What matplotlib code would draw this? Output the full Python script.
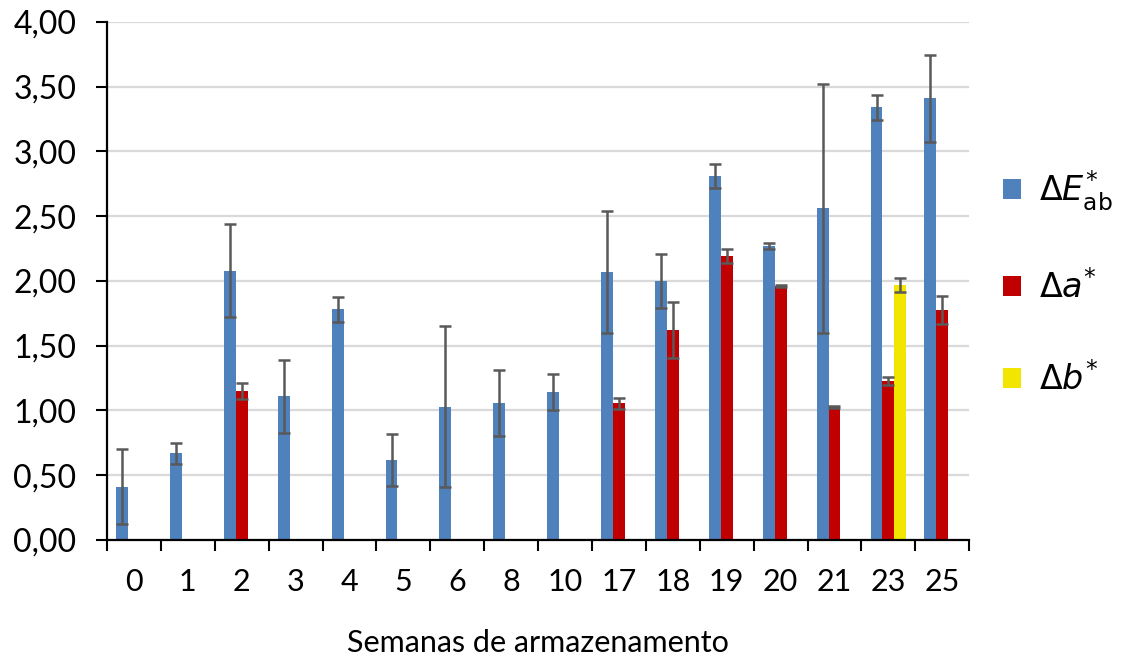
import matplotlib.pyplot as plt
import numpy as np

semanas = ['0', '1', '2', '3', '4', '5', '6', '8', '10', '17', '18', '19', '20', '21', '23', '25']

delta_E = [0.41, 0.67, 2.08, 1.11, 1.78, 0.62, 1.03, 1.06, 1.14, 2.07, 2.00, 2.81, 2.27, 2.56, 3.34, 3.41]
erro_E = [0.29, 0.08, 0.36, 0.28, 0.095, 0.20, 0.62, 0.255, 0.14, 0.47, 0.21, 0.095, 0.02, 0.96, 0.095, 0.335]

delta_a = [0, 0, 1.15, 0, 0, 0, 0, 0, 0, 1.055, 1.62, 2.19, 1.96, 1.025, 1.23, 1.775]
erro_a = [0, 0, 0.06, 0, 0, 0, 0, 0, 0, 0.045, 0.215, 0.055, 0.006, 0.006, 0.032, 0.11]

delta_b = [0, 0, 0, 0, 0, 0, 0, 0, 0, 0, 0, 0, 0, 0, 1.97, 0]
erro_b = [0, 0, 0, 0, 0, 0, 0, 0, 0, 0, 0, 0, 0, 0, 0.055, 0]

cores = ['#4F81BD', '#C00000', '#F2E600']
rotulos = [r'$\Delta E^{*}_{\rm ab}$', r'$\Delta a^{*}$', r'$\Delta b^{*}$']

plt.rcParams['font.family'] = ['Lato', 'DejaVu Sans']
plt.rcParams['mathtext.fontset'] = 'dejavusans'

fig = plt.figure(figsize=(11.3, 6.6), dpi=100)
ax = fig.add_axes([0.0947, 0.1818, 0.763, 0.785])

x = np.arange(len(semanas))
largura = 0.22
series = [(delta_E, erro_E), (delta_a, erro_a), (delta_b, erro_b)]

for i, (valores, erros) in enumerate(series):
    pos = x + (i - 1) * largura
    ax.bar(pos, valores, largura, color=cores[i], label=rotulos[i], zorder=2)
    # barras de erro so onde ha valor
    v = np.array(valores)
    e = np.array(erros)
    m = v > 0
    ax.errorbar(pos[m], v[m], yerr=e[m], fmt='none', ecolor='#595959',
                elinewidth=1.8, capsize=4.3, capthick=1.8, zorder=3)

ax.set_xlim(-0.5, len(semanas) - 0.5)
ax.set_ylim(0, 4)
ax.set_yticks(np.arange(0, 4.01, 0.5))
ax.set_yticklabels([f'{t:.2f}'.replace('.', ',') for t in np.arange(0, 4.01, 0.5)])
ax.yaxis.grid(True, color='#D9D9D9', linewidth=1.6, zorder=0)
ax.set_axisbelow(True)

# marcas entre categorias, rotulos no centro
ax.set_xticks(np.arange(-0.5, len(semanas), 1.0))
ax.set_xticklabels([])
ax.set_xticks(x, minor=True)
ax.set_xticklabels(semanas, minor=True)
ax.tick_params(axis='x', which='major', length=8, width=1.5, direction='out')
ax.tick_params(axis='x', which='minor', length=0, pad=20, labelsize=22)
ax.tick_params(axis='y', length=8, width=1.5, pad=14, labelsize=23)

for s in ['top', 'right']:
    ax.spines[s].set_visible(False)
for s in ['left', 'bottom']:
    ax.spines[s].set_linewidth(1.6)
    ax.spines[s].set_color('black')

ax.set_xlabel('Semanas de armazenamento', fontsize=22, labelpad=24)

ax.legend(loc='upper left', bbox_to_anchor=(0.8754, 0.765), bbox_transform=fig.transFigure,
          frameon=False, fontsize=24, handlelength=0.55, handleheight=0.55,
          labelspacing=1.7, handletextpad=0.55, borderaxespad=0)

plt.savefig('out.png', dpi=100)
